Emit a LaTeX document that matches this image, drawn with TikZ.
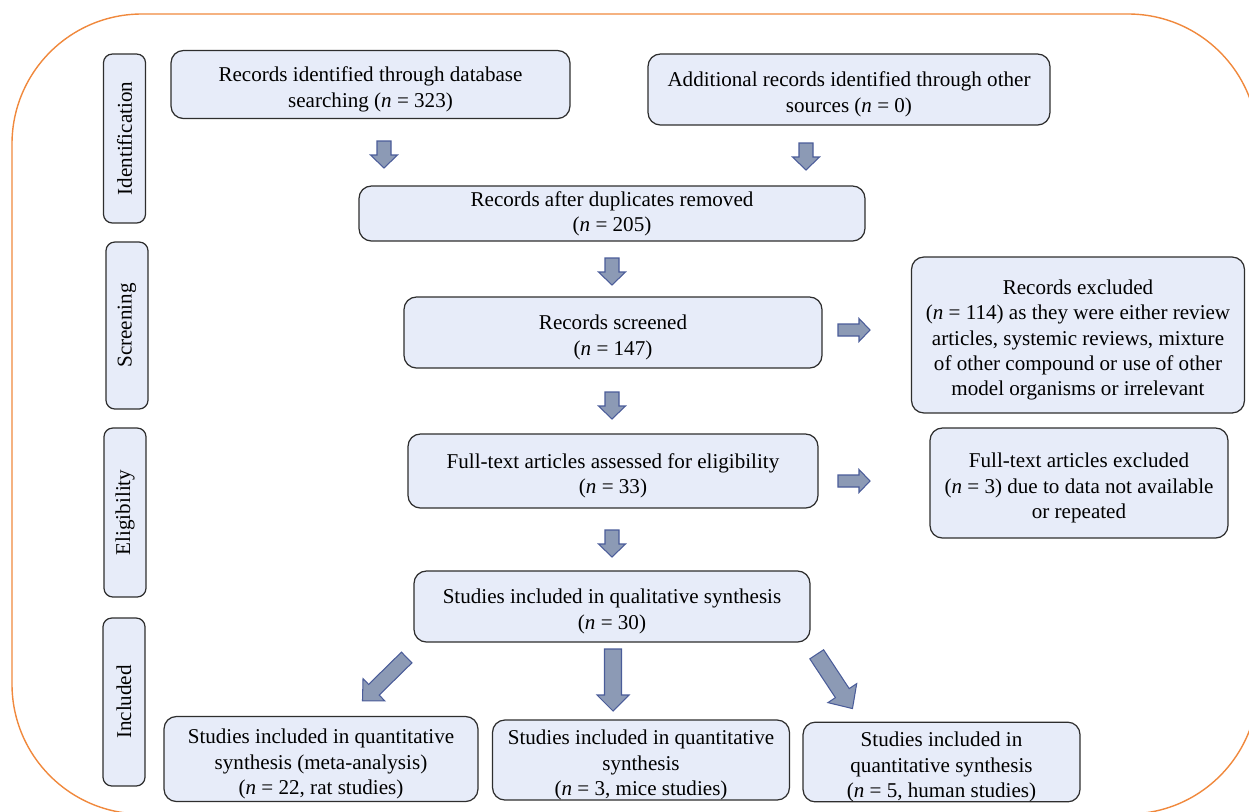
\documentclass[tikz,border=0pt]{standalone}
\usepackage{fontspec}
\setmainfont{Liberation Serif}
\usepackage{xcolor}
\usetikzlibrary{calc}

\definecolor{boxfill}{HTML}{E7ECF9}
\definecolor{boxline}{HTML}{2E2E2E}
\definecolor{arrfill}{HTML}{8C9AB5}
\definecolor{arrline}{HTML}{4A5C99}
\definecolor{frameorange}{HTML}{F0893D}

% extra room above the first line of a box
\newcommand{\padtop}{\rule{0pt}{14pt}}

\tikzset{
  blockarr/.style={draw=arrline, fill=arrfill, line width=0.6pt, line join=miter},
  % length / shaft width / head width / head length
  pics/blockarrow/.style args={#1/#2/#3/#4}{code={
    \path[blockarr] (0,-#2/2) -- (#1-#4,-#2/2) -- (#1-#4,-#3/2) -- (#1,0)
      -- (#1-#4,#3/2) -- (#1-#4,#2/2) -- (0,#2/2) -- cycle;
  }},
}

\begin{document}
\begin{tikzpicture}[
    x=0.02cm, y=-0.02cm,
    baseblock/.style={draw=boxline, fill=boxfill, line width=0.7pt,
                      align=center, inner xsep=2pt, inner ysep=0pt,
                      font=\fontsize{12}{14.4}\selectfont},
    flowblock/.style={baseblock, rounded corners=7pt},
    stageblock/.style={baseblock, rounded corners=5pt, rotate=90,
                       minimum height=0.84cm},
  ]
    \useasboundingbox (0,0) rectangle (1249,812);

    % Outer frame
    \begin{scope}
      \clip (0,0) rectangle (1249,812);
      \draw[frameorange, line width=0.8pt, rounded corners=2.6cm]
        (12,14) rectangle (1258,814);
    \end{scope}

    % Stage labels
    \node[stageblock, minimum width=3.38cm] (ident) at (124.5,138.5) {Identification};
    \node[stageblock, minimum width=3.34cm] (screen) at (127,325.5) {Screening};
    \node[stageblock, minimum width=3.38cm] (elig) at (125,512.5) {Eligibility};
    \node[stageblock, minimum width=3.36cm] (incl) at (124,702) {Included};

    % Identification
    \node[flowblock, minimum width=7.98cm, minimum height=1.36cm] (dbrec)
          at (370.5,84.5) {\padtop Records identified through database\\searching (\textit{n} = 323)};
    \node[flowblock, minimum width=8.04cm, minimum height=1.42cm] (other)
          at (849,89.5) {\padtop Additional records identified through other\\sources (\textit{n} = 0)};
    \node[flowblock, minimum width=10.12cm, minimum height=1.10cm] (dup)
          at (612,213.5) {Records after duplicates removed\\(\textit{n} = 205)};
    \pic[rotate=-90] (arrA) at (384,141) {blockarrow=27/14/27/13};
    \pic[rotate=-90] (arrB) at (806,143) {blockarrow=27/14/27/13};

    % Screening
    \node[flowblock, minimum width=8.36cm, minimum height=1.42cm] (scr)
          at (613,332.5) {\padtop Records screened\\(\textit{n} = 147)};
    \node[flowblock, minimum width=6.66cm, minimum height=3.12cm] (excl)
          at (1078,335) {\padtop Records excluded\\(\textit{n} = 114) as they were either review\\articles, systemic reviews, mixture\\of other compound or use of other\\model organisms or irrelevant};
    \pic[rotate=-90] (arrC) at (612,258) {blockarrow=27/14/27/13};
    \pic (arrD) at (838,330) {blockarrow=32/12/23/11};

    % Eligibility
    \node[flowblock, minimum width=8.2cm, minimum height=1.48cm] (ft)
          at (613,471) {\padtop Full-text articles assessed for eligibility\\(\textit{n} = 33)};
    \node[flowblock, minimum width=5.96cm, minimum height=2.2cm] (ftexcl)
          at (1079,483) {\padtop Full-text articles excluded\\(\textit{n} = 3) due to data not available\\or repeated};
    \pic[rotate=-90] (arrE) at (612,392) {blockarrow=27/14/27/13};
    \pic (arrF) at (838,481) {blockarrow=32/12/23/11};

    % Included
    \node[flowblock, minimum width=7.92cm, minimum height=1.42cm] (qual)
          at (612,606.5) {\padtop Studies included in qualitative synthesis\\(\textit{n} = 30)};
    \pic[rotate=-90] (arrG) at (612,530) {blockarrow=27/14/27/13};
    \node[flowblock, minimum width=6.28cm, minimum height=1.7cm] (meta)
          at (321,759) {\padtop Studies included in quantitative\\synthesis (meta-analysis)\\(\textit{n} = 22, rat studies)};
    \node[flowblock, minimum width=5.94cm, minimum height=1.6cm] (mice)
          at (641,760) {\padtop Studies included in quantitative\\synthesis\\(\textit{n} = 3, mice studies)};
    \node[flowblock, minimum width=5.54cm, minimum height=1.58cm] (human)
          at (941.5,762) {\padtop Studies included in\\quantitative synthesis\\(\textit{n} = 5, human studies)};
    \pic[rotate=224.5] (arrH) at (406.7,657.5) {blockarrow=62/15/31/16};
    \pic[rotate=-90] (arrI) at (613,649) {blockarrow=62/17/32/16};
    \pic[rotate=-56.6] (arrJ) at (816.7,654.3) {blockarrow=65/16.5/34.5/18.5};
\end{tikzpicture}
\end{document}
